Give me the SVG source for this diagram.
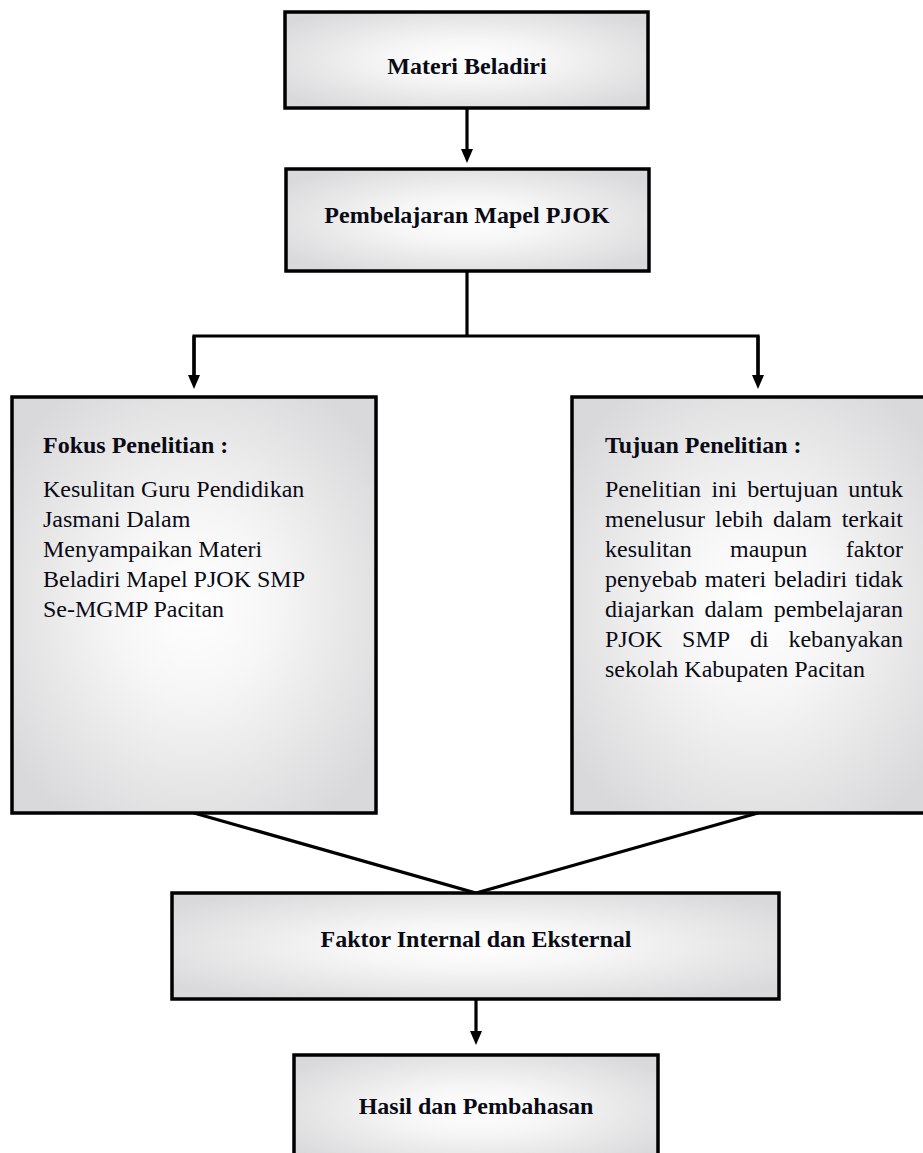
<svg xmlns="http://www.w3.org/2000/svg" width="923" height="1153" viewBox="0 0 923 1153">
<defs>
<radialGradient id="g" cx="50%" cy="50%" r="62%">
<stop offset="0" stop-color="#ffffff"/>
<stop offset="0.35" stop-color="#f6f6f6"/>
<stop offset="1" stop-color="#d9d9db"/>
</radialGradient>
<marker id="ah" viewBox="0 0 14 12" refX="0" refY="6" markerWidth="14" markerHeight="12" markerUnits="userSpaceOnUse" orient="auto">
<path d="M0,0 L14,6 L0,12 Z" fill="#000"/>
</marker>
<style>
.box{fill:url(#g);stroke:#000;stroke-width:3.5;}
.t{font-family:"Liberation Serif","Times New Roman",serif;font-size:24px;fill:#0a0a14;}
.b{font-weight:bold;}
.c{text-anchor:middle;}
.e{text-anchor:end;}
.ln{fill:none;stroke:#000;stroke-width:3.2;}
</style>
</defs>
<rect width="923" height="1153" fill="#fff"/>

<g id="connectors">
<line class="ln" x1="467" y1="108" x2="467" y2="149" marker-end="url(#ah)"/>
<line class="ln" x1="467" y1="271" x2="467" y2="336"/>
<polyline class="ln" points="194,375 194,336 758,336 758,375"/>
<line class="ln" x1="194" y1="336" x2="194" y2="375" marker-end="url(#ah)"/>
<line class="ln" x1="758" y1="336" x2="758" y2="375" marker-end="url(#ah)"/>
<polyline class="ln" points="194,813 476,893 758,813"/>
<line class="ln" x1="476" y1="999" x2="476" y2="1031" marker-end="url(#ah)"/>
</g>

<g id="materi-beladiri">
<rect class="box" x="285" y="12" width="363" height="96"/>
<text class="t b c" x="467" y="74">Materi Beladiri</text>
</g>

<g id="pembelajaran">
<rect class="box" x="286" y="169" width="363" height="102"/>
<text class="t b c" x="467" y="223">Pembelajaran Mapel PJOK</text>
</g>

<g id="fokus">
<rect class="box" x="12" y="397" width="364" height="416"/>
<text class="t b" x="43" y="453">Fokus Penelitian :</text>
<text class="t" x="43" y="497">Kesulitan Guru Pendidikan</text>
<text class="t" x="43" y="527">Jasmani Dalam</text>
<text class="t" x="43" y="557">Menyampaikan Materi</text>
<text class="t" x="43" y="587">Beladiri Mapel PJOK SMP</text>
<text class="t" x="43" y="617">Se-MGMP Pacitan</text>
</g>

<g id="tujuan">
<rect class="box" x="572" y="397" width="366" height="416"/>
<text class="t b" x="605" y="453">Tujuan Penelitian :</text>
<text class="t" y="497"><tspan x="605">Penelitian</tspan><tspan x="711.5">ini</tspan><tspan x="747.3">bertujuan</tspan></text>
<text class="t e" x="903" y="497">untuk</text>
<text class="t" y="527"><tspan x="605">menelusur</tspan><tspan x="715">lebih</tspan><tspan x="773">dalam</tspan></text>
<text class="t e" x="903" y="527">terkait</text>
<text class="t" y="557"><tspan x="605">kesulitan</tspan><tspan x="730">maupun</tspan></text>
<text class="t e" x="903" y="557">faktor</text>
<text class="t" y="587"><tspan x="605">penyebab</tspan><tspan x="704.8">materi</tspan><tspan x="773.9">beladiri</tspan></text>
<text class="t e" x="903" y="587">tidak</text>
<text class="t" y="617"><tspan x="605">diajarkan</tspan><tspan x="704.6">dalam</tspan></text>
<text class="t e" x="903" y="617">pembelajaran</text>
<text class="t" y="647"><tspan x="605">PJOK</tspan><tspan x="682.1">SMP</tspan><tspan x="749.9">di</tspan></text>
<text class="t e" x="903" y="647">kebanyakan</text>
<text class="t" x="605" y="677">sekolah Kabupaten Pacitan</text>
</g>

<g id="faktor">
<rect class="box" x="172" y="893" width="607" height="106"/>
<text class="t b c" x="476" y="947">Faktor Internal dan Eksternal</text>
</g>

<g id="hasil">
<rect class="box" x="294" y="1055" width="364" height="110"/>
<text class="t b c" x="476" y="1114">Hasil dan Pembahasan</text>
</g>
</svg>
